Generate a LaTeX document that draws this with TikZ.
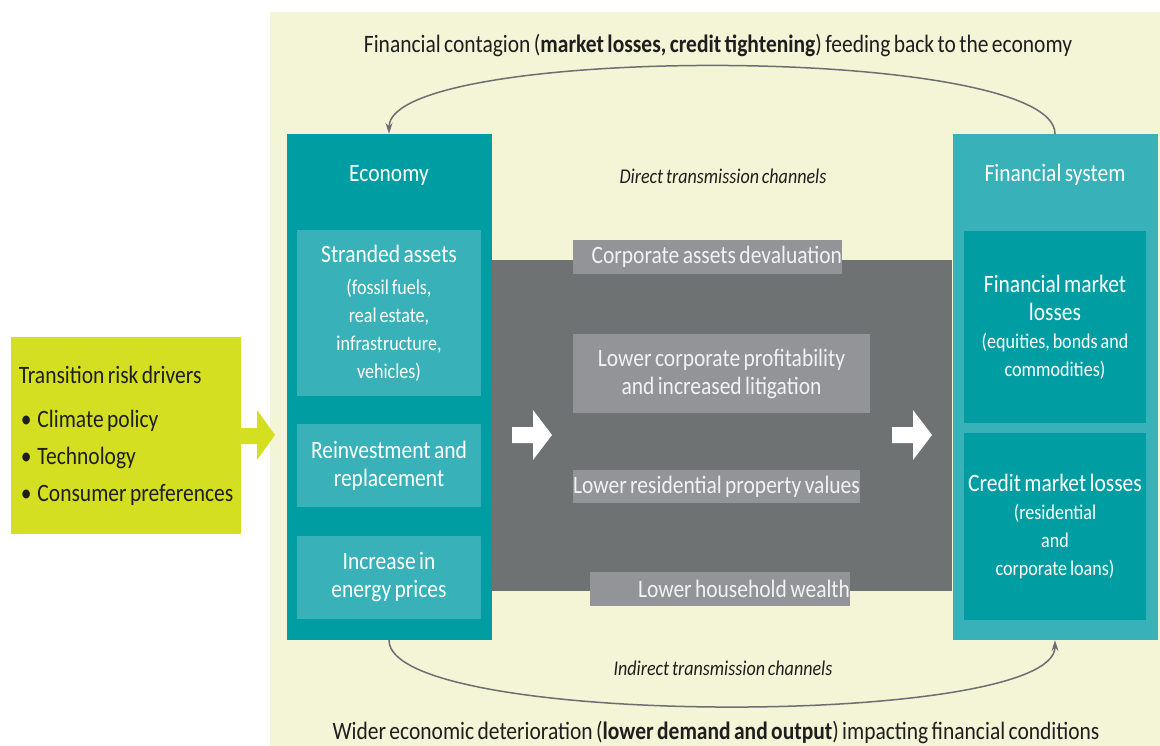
\documentclass[tikz,border=0pt]{standalone}
\usepackage{fontspec}
\setmainfont[FakeStretch=0.86, WordSpace=0.7]{Carlito}
\usetikzlibrary{arrows.meta}
\definecolor{tealdark}{HTML}{009EA3}
\definecolor{teallight}{HTML}{38B1B8}
\definecolor{limebox}{HTML}{D5DF21}
\definecolor{creambg}{HTML}{F3F5D6}
\definecolor{bandgray}{HTML}{6F7273}
\definecolor{chgray}{HTML}{929497}
\definecolor{chtext}{HTML}{F2F2F2}
\definecolor{arcgray}{HTML}{6D6E71}
\definecolor{inktext}{HTML}{1E1E1E}
\newcommand{\bigtxt}{\fontsize{25}{28}\selectfont}
\newcommand{\smalltxt}{\fontsize{21}{28}\selectfont}

\begin{document}
\begin{tikzpicture}[x=1pt, y=-1pt, font=\bigtxt, line join=round, line cap=round,
		>={Stealth[length=11pt,width=7pt]},
		outer/.style={fill=#1, inner sep=0, minimum width=205pt, minimum height=506pt},
		inner/.style={fill=#1, text=white, inner sep=0, align=flush center},
		chanbox/.style={fill=chgray, text=chtext, inner sep=0, minimum height=34pt},
		channel/.style={font=\smalltxt\itshape, text=inktext},
		flow/.style={->, draw=arcgray, line width=1.5pt}]
		\useasboundingbox (0,0) rectangle (1160,746);
		\fill[creambg] (270,12) rectangle (1160,746);
		% transmission band
		\node[fill=bandgray, inner sep=0, minimum width=461pt, minimum height=331pt] (band) at (721.5,425.5) {};
		% drivers
		\node[fill=limebox, text=inktext, inner sep=0, minimum width=230pt, minimum height=197pt,
			align=left, font=\fontsize{25}{37}\selectfont] (drivers) at (126,435.5)
			{Transition risk drivers\\[7pt]
			\hspace*{2pt}\textbullet\hspace{6pt}Climate policy\\
			\hspace*{2pt}\textbullet\hspace{6pt}Technology\\
			\hspace*{2pt}\textbullet\hspace{6pt}Consumer preferences};
		\fill[limebox] (241,428) -- (257,428) -- (257,410) -- (275,435) -- (257,460) -- (257,444) -- (241,444) -- cycle;
		% economy
		\node[outer=tealdark] (eco) at (389,387) {};
		\node[text=white] (ecotitle) at (389,175) {Economy};
		\node[inner=teallight, text width=184pt, minimum height=166pt] (stranded) at (389,313)
			{Stranded assets\\[4pt] \smalltxt (fossil fuels,\\ real estate,\\ infrastructure,\\ vehicles)};
		\node[inner=teallight, text width=184pt, minimum height=83pt] (reinvest) at (389,465.5)
			{Reinvestment and\\ replacement};
		\node[inner=teallight, text width=184pt, minimum height=83pt] (energy) at (389,577.5)
			{Increase in\\ energy prices};
		% financial system
		\node[outer=teallight] (fin) at (1055,387) {};
		\node[text=white] (fintitle) at (1055,175) {Financial system};
		\node[inner=tealdark, text width=182pt, minimum height=192pt] (fmarket) at (1055,327)
			{Financial market\\ losses\\ \smalltxt (equities, bonds and\\ commodities)};
		\node[inner=tealdark, text width=182pt, minimum height=187pt] (cmarket) at (1055,526.5)
			{Credit market losses\\ \smalltxt (residential\\ and\\ corporate loans)};
		% channels
		\node[chanbox, text width=269pt, align=flush right] (assets) at (707.5,257) {Corporate assets devaluation};
		\node[chanbox, text width=297pt, minimum height=79pt, align=flush center] (profit) at (721.5,373.5)
			{Lower corporate profitability\\ and increased litigation};
		\node[chanbox, text width=287pt, minimum height=33pt, align=flush center] (property) at (716.5,486.5)
			{Lower residential property values};
		\node[chanbox, text width=260pt, align=flush right] (wealth) at (720,589) {Lower household wealth};
		\foreach \x in {512,892}
		\fill[white] (\x,427) -- (\x+21,427) -- (\x+21,410) -- (\x+40,435) -- (\x+21,460) -- (\x+21,443) -- (\x,443) -- cycle;
		\node[channel] (direct) at (723,176) {Direct transmission channels};
		\node[channel] (indirect) at (723,668) {Indirect transmission channels};
		% feedback loops
		\draw[flow] (fin.north) .. controls +(0,-90) and +(0,-90) .. (eco.north);
		\draw[flow] (eco.south) .. controls +(0,88) and +(0,88) .. (fin.south);
		\node[text=inktext] (contagion) at (718,46)
			{Financial contagion (\textbf{market losses, credit tightening}) feeding back to the economy};
		\node[text=inktext] (deterioration) at (716,733)
			{Wider economic deterioration (\textbf{lower demand and output}) impacting financial conditions};
	\end{tikzpicture}
\end{document}
